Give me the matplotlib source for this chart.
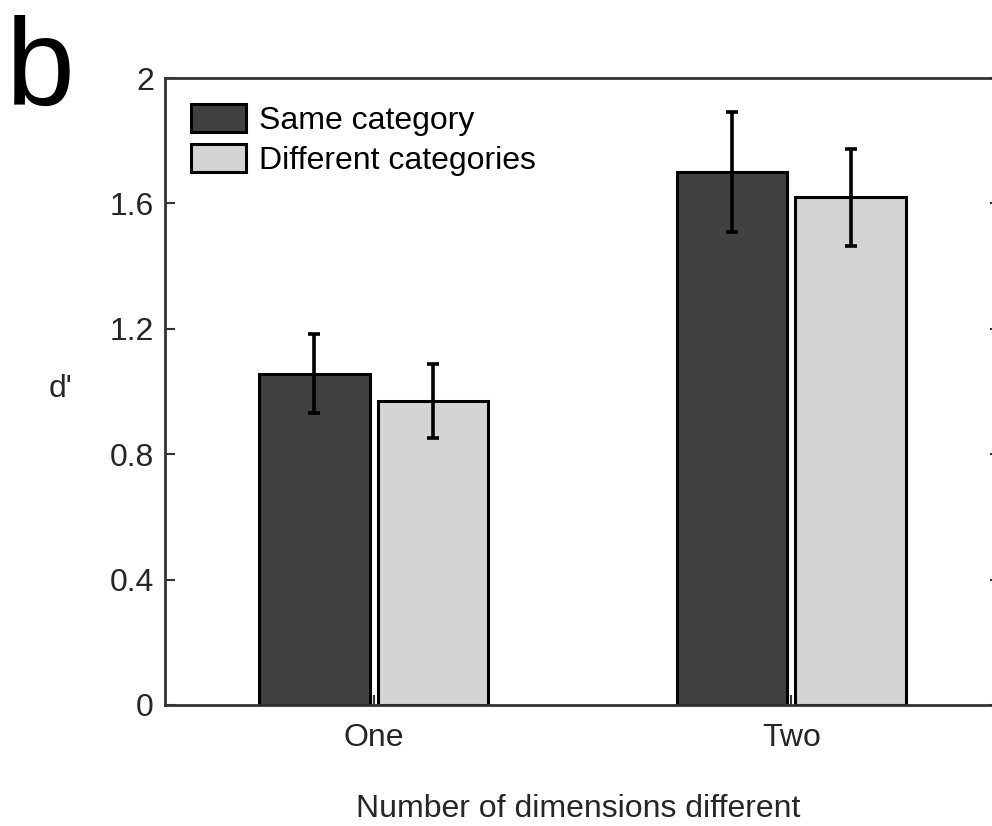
import matplotlib
matplotlib.use("Agg")
import matplotlib.pyplot as plt
import numpy as np

plt.rcParams['font.family'] = ['Liberation Sans', 'DejaVu Sans']

categories = ["One", "Two"]
series_names = ["Same category", "Different categories"]
same_vals = [1.056, 1.700]
same_err = [0.126, 0.192]
diff_vals = [0.970, 1.620]
diff_err = [0.118, 0.155]
yticks = [0, 0.4, 0.8, 1.2, 1.6, 2]
ytick_labels = ["0", "0.4", "0.8", "1.2", "1.6", "2"]

fig = plt.figure(figsize=(9.92, 8.26), dpi=100)
ax = fig.add_axes([165/992, 1-705/826, (1000-165)/992, (705-78)/826])

x = np.arange(1, len(categories) + 1)
w = 0.264
off = 0.142
dark = "#404040"
light = "#d4d4d4"
ax.bar(x - off, same_vals, w, color=dark, edgecolor="black", linewidth=2.2,
       label=series_names[0], zorder=2)
ax.bar(x + off, diff_vals, w, color=light, edgecolor="black", linewidth=2.2,
       label=series_names[1], zorder=2)
ax.errorbar(x - off, same_vals, yerr=same_err, fmt="none", ecolor="black",
            elinewidth=2.6, capsize=4.5, capthick=2.6, zorder=3)
ax.errorbar(x + off, diff_vals, yerr=diff_err, fmt="none", ecolor="black",
            elinewidth=2.6, capsize=4.5, capthick=2.6, zorder=3)

ax.set_xlim(0.5, 2.5)
ax.set_ylim(0, 2)
ax.set_xticks(x)
ax.set_xticklabels(categories)
ax.set_yticks(yticks)
ax.set_yticklabels(ytick_labels)
tc = "#262626"
fs = 23
ax.tick_params(axis="both", direction="in", length=7, width=1.5, colors="#333333",
               labelsize=fs, labelcolor=tc, right=True, top=False)
ax.tick_params(axis="x", pad=13)
ax.tick_params(axis="y", pad=8)
for s in ax.spines.values():
    s.set_color("#333333")
    s.set_linewidth(2)

ax.set_xlabel("Number of dimensions different", fontsize=fs, color=tc, labelpad=0)
ax.xaxis.set_label_coords((578-165)/835, -(809-705)/627)
ax.xaxis.label.set_va("center")
ax.set_ylabel("d'", fontsize=fs, color=tc, rotation=0, labelpad=0)
ax.yaxis.set_label_coords((60-165)/835, (705-389)/627)
ax.yaxis.label.set_va("center")
ax.yaxis.label.set_ha("center")

leg = ax.legend(loc="upper left", bbox_to_anchor=(0.0, 1.0), frameon=False,
                fontsize=fs, handlelength=1.75, handleheight=1.0,
                handletextpad=0.4, labelspacing=0.25, borderaxespad=0.4,
                borderpad=0.4)
for t in leg.get_texts():
    t.set_color("black")

fig.text(6/992, 1-105/826, "b", fontsize=89, color="black", ha="left", va="baseline")

fig.savefig("out.png", dpi=100)
